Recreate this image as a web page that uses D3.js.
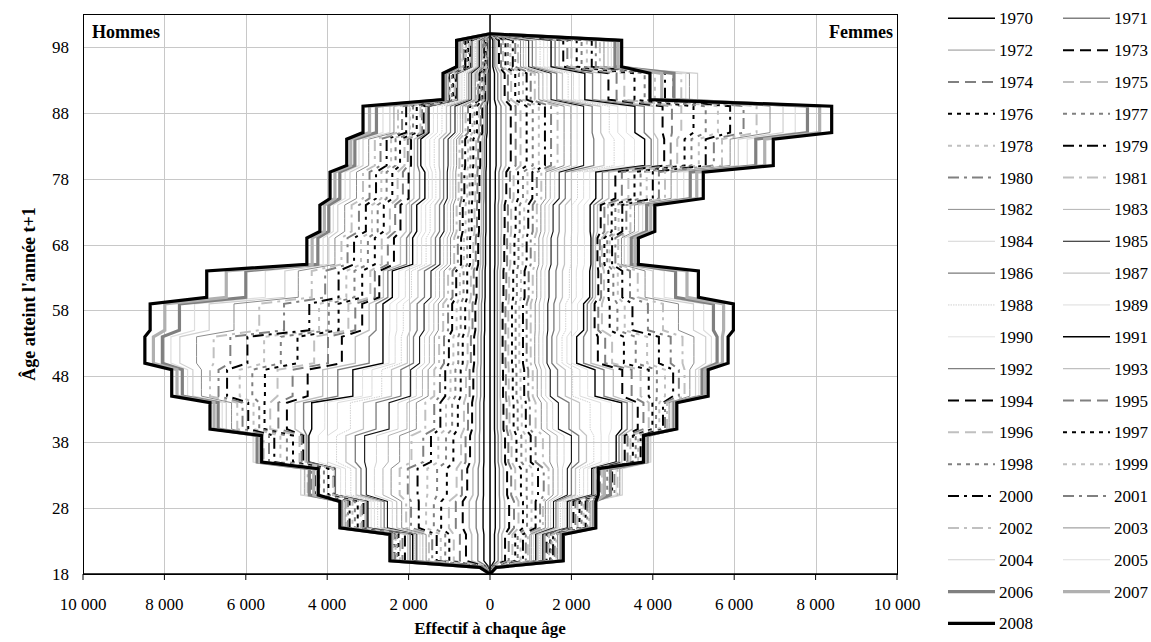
<!DOCTYPE html>
<html>
<head>
<meta charset="utf-8">
<script src="https://cdn.jsdelivr.net/npm/d3@7"></script>
<style>
  body { margin: 0; background: #fff; }
  svg text { font-family: "Liberation Serif", "Times New Roman", serif; fill: #000; }
</style>
</head>
<body>
<svg id="chart" width="1151" height="642"></svg>
<script>
// Years shown, one line per year
const annees = [1970,1971,1972,1973,1974,1975,1976,1977,1978,1979,1980,1981,1982,1983,1984,1985,1986,1987,1988,1989,
                1990,1991,1992,1993,1994,1995,1996,1997,1998,1999,2000,2001,2002,2003,2004,2005,2006,2007,2008];

// Age groups: age 19 on its own, then five-year groups 20-24 ... 95-99
const debutGroupe = [19, 20, 25, 30, 35, 40, 45, 50, 55, 60, 65, 70, 75, 80, 85, 90, 95];
const finGroupe   = [19, 24, 29, 34, 39, 44, 49, 54, 59, 64, 69, 74, 79, 84, 89, 94, 99];

// Men: headcount at each age of the group, one row per year (same order as annees)
const hommes = [
  [20,150,170,160,150,150,140,140,130,120,110,100,100,90,70,50,30],
  [30,300,340,290,260,250,230,220,210,190,170,160,150,140,110,70,40],
  [50,450,510,420,370,350,320,300,280,260,230,210,200,190,150,90,50],
  [60,590,670,560,490,440,410,390,360,330,290,270,260,240,190,120,70],
  [80,740,840,690,600,540,500,470,430,400,350,320,310,290,230,140,80],
  [90,890,1010,820,710,640,590,550,510,470,410,380,360,340,270,160,90],
  [100,1000,1200,1060,900,790,720,670,610,560,490,450,430,410,320,190,110],
  [110,1100,1380,1300,1080,930,850,780,720,650,560,520,500,480,380,210,120],
  [110,1210,1570,1540,1270,1080,970,900,820,740,640,600,560,540,430,240,140],
  [120,1310,1750,1780,1450,1220,1100,1010,930,830,710,670,630,610,490,260,150],
  [130,1420,1940,2020,1640,1370,1230,1130,1030,920,790,740,700,680,540,290,170],
  [140,1500,2060,2220,1930,1590,1370,1250,1150,1030,880,820,770,750,600,320,190],
  [150,1570,2170,2430,2220,1810,1520,1370,1270,1130,970,900,840,820,670,360,210],
  [150,1650,2290,2630,2500,2040,1660,1490,1380,1240,1050,970,910,890,730,390,220],
  [160,1720,2400,2840,2790,2260,1810,1610,1500,1340,1140,1050,980,960,800,430,240],
  [170,1800,2520,3040,3080,2480,1950,1730,1620,1450,1230,1130,1050,1030,860,460,260],
  [170,1820,2600,3170,3310,2800,2190,1880,1790,1610,1340,1240,1140,1140,970,520,290],
  [180,1830,2680,3290,3540,3110,2420,2030,1960,1770,1450,1350,1230,1250,1070,570,320],
  [180,1850,2760,3420,3770,3430,2660,2180,2130,1930,1570,1470,1330,1370,1180,630,360],
  [180,1870,2840,3550,3990,3750,2900,2330,2290,2080,1680,1580,1420,1480,1290,690,390],
  [190,1880,2920,3670,4220,4060,3130,2480,2460,2240,1790,1690,1510,1590,1390,740,420],
  [190,1900,3000,3800,4450,4380,3370,2630,2630,2400,1900,1800,1600,1700,1500,800,450],
  [190,1960,3040,3810,4500,4580,3740,2970,2800,2510,2050,1930,1730,1780,1540,810,460],
  [190,2020,3070,3820,4540,4790,4110,3310,2970,2620,2200,2060,1870,1860,1580,830,480],
  [200,2090,3110,3840,4590,4990,4480,3640,3140,2720,2360,2200,2000,1940,1630,840,490],
  [200,2150,3140,3850,4630,5200,4850,3980,3310,2830,2510,2330,2140,2020,1670,860,510],
  [200,2210,3180,3860,4680,5400,5220,4320,3480,2940,2660,2460,2270,2100,1710,870,520],
  [210,2250,3250,3970,4840,5540,5530,4730,3720,3140,2830,2610,2400,2210,1800,910,540],
  [210,2280,3320,4080,4990,5670,5840,5140,3960,3330,3000,2760,2540,2320,1890,940,570],
  [220,2320,3380,4190,5150,5810,6150,5550,4200,3530,3170,2900,2670,2430,1970,980,590],
  [220,2350,3450,4300,5300,5940,6460,5960,4440,3720,3340,3050,2800,2540,2060,1010,610],
  [220,2360,3490,4390,5430,6080,6670,6380,5060,4050,3500,3220,2960,2690,2160,1020,650],
  [230,2380,3530,4480,5560,6210,6880,6790,5670,4380,3650,3400,3120,2830,2260,1030,680],
  [230,2390,3560,4560,5690,6350,7090,7210,6290,4710,3810,3570,3280,2980,2360,1030,720],
  [230,2400,3600,4650,5820,6480,7300,7620,6900,5040,3960,3740,3440,3120,2460,1040,750],
  [240,2420,3620,4540,5770,6580,7430,7840,7260,5520,4100,3850,3560,3220,2630,1070,770],
  [240,2430,3650,4440,5720,6680,7560,8050,7630,6000,4230,3960,3690,3320,2790,1100,790],
  [250,2440,3670,4330,5660,6780,7690,8270,7990,6480,4370,4070,3810,3420,2960,1130,800],
  [250,2460,3690,4220,5610,6880,7820,8480,8350,6960,4500,4180,3930,3520,3120,1155,820]
];

// Women: headcount at each age of the group, one row per year
const femmes = [
  [10,110,130,130,120,110,110,110,110,110,120,120,130,150,150,110,70],
  [20,200,240,230,200,180,180,180,180,180,200,200,220,270,270,190,120],
  [30,290,360,330,280,260,250,250,250,250,270,280,310,390,390,270,170],
  [30,370,470,420,370,330,320,310,310,330,350,360,400,510,510,360,220],
  [40,460,590,520,450,410,390,380,380,400,420,440,490,630,630,440,270],
  [50,550,700,620,530,480,460,450,450,470,500,520,580,750,750,520,320],
  [60,620,810,760,650,580,560,540,540,570,600,630,690,900,900,620,380],
  [60,680,910,900,770,680,650,630,630,660,700,730,810,1050,1050,710,440],
  [70,750,1020,1040,880,780,750,720,720,760,800,840,920,1200,1200,810,500],
  [70,810,1120,1180,1000,880,840,810,810,850,900,940,1040,1350,1350,900,560],
  [80,880,1230,1320,1120,980,940,900,900,950,1000,1050,1150,1500,1500,1000,620],
  [90,930,1300,1440,1300,1120,1050,1000,1000,1050,1100,1150,1260,1660,1660,1100,690],
  [90,980,1360,1550,1470,1260,1160,1100,1110,1150,1200,1250,1370,1820,1820,1200,750],
  [100,1020,1430,1670,1650,1400,1260,1200,1210,1250,1300,1350,1480,1980,1980,1300,820],
  [100,1070,1490,1780,1820,1540,1370,1300,1320,1350,1400,1450,1590,2140,2140,1400,880],
  [110,1120,1560,1900,2000,1680,1480,1400,1420,1450,1500,1550,1700,2300,2300,1500,950],
  [110,1150,1620,2000,2180,1940,1660,1520,1570,1620,1660,1700,1850,2550,2510,1640,1040],
  [120,1180,1670,2100,2370,2200,1850,1640,1710,1780,1830,1850,2000,2800,2720,1780,1130],
  [120,1210,1730,2200,2550,2460,2030,1770,1860,1950,1990,2010,2150,3050,2930,1920,1230],
  [120,1240,1790,2300,2730,2720,2210,1890,2010,2120,2150,2160,2300,3300,3140,2050,1320],
  [130,1270,1840,2400,2920,2980,2400,2010,2150,2280,2320,2310,2450,3550,3350,2190,1410],
  [130,1300,1900,2500,3100,3235,2580,2130,2300,2450,2480,2460,2600,3800,3560,2330,1500],
  [130,1330,1950,2550,3170,3370,2800,2300,2390,2520,2530,2550,2760,3960,3790,2520,1600],
  [130,1360,2000,2600,3240,3500,3030,2480,2480,2590,2590,2640,2920,4120,4020,2720,1700],
  [140,1390,2050,2650,3310,3630,3250,2650,2570,2660,2640,2720,3080,4280,4240,2910,1800],
  [140,1420,2100,2700,3380,3770,3480,2830,2660,2730,2700,2810,3240,4440,4470,3110,1900],
  [140,1450,2150,2750,3450,3900,3700,3000,2750,2800,2750,2900,3400,4600,4700,3300,2000],
  [140,1480,2200,2810,3510,3990,3900,3290,2940,2910,2810,2990,3550,4780,5000,3550,2130],
  [150,1500,2250,2880,3580,4080,4100,3580,3130,3030,2880,3080,3700,4950,5300,3800,2250],
  [150,1530,2300,2940,3640,4160,4300,3860,3310,3140,2940,3160,3850,5130,5600,4050,2380],
  [150,1550,2350,3000,3700,4250,4500,4150,3500,3250,3000,3250,4000,5300,5900,4300,2500],
  [150,1590,2390,3060,3760,4300,4640,4440,3880,3440,3080,3350,4150,5500,6230,4500,2600],
  [150,1630,2430,3130,3830,4350,4780,4730,4250,3630,3150,3450,4300,5700,6550,4700,2700],
  [150,1660,2460,3190,3890,4400,4910,5010,4630,3810,3230,3550,4450,5900,6880,4900,2800],
  [150,1700,2500,3250,3950,4450,5050,5300,5000,4000,3300,3650,4600,6100,7200,5100,2900],
  [150,1730,2530,3100,3910,4490,5130,5440,5250,4280,3390,3750,4760,6320,7500,4810,2980],
  [150,1750,2550,2960,3860,4520,5210,5580,5490,4560,3470,3850,4920,6530,7800,4520,3070],
  [150,1780,2580,2810,3820,4560,5280,5710,5740,4840,3560,3950,5080,6750,8100,4220,3150],
  [150,1800,2600,2660,3770,4590,5360,5850,5980,5120,3645,4050,5240,6960,8395,3930,3235]
];

// Axis ticks
const ticksEffectif = [-10000, -8000, -6000, -4000, -2000, 0, 2000, 4000, 6000, 8000, 10000];
const ticksAge = [18, 28, 38, 48, 58, 68, 78, 88, 98];

// Line styles, one per year
const NOIR = "#000", GRIS = "#808080", CLAIR = "#c0c0c0";
const TIRET = "11,6", POINTS = "4,5", MIXTE = "11,5,3,5";
const styles = [
  {c: NOIR, w: 1.4, d: null},        // 1970
  {c: GRIS, w: 1.4, d: null},
  {c: CLAIR, w: 1.6, d: null},
  {c: NOIR, w: 2, d: TIRET},
  {c: GRIS, w: 2, d: TIRET},
  {c: CLAIR, w: 2, d: TIRET},
  {c: NOIR, w: 2, d: POINTS},
  {c: GRIS, w: 2, d: POINTS},
  {c: CLAIR, w: 2, d: POINTS},
  {c: NOIR, w: 2, d: MIXTE},
  {c: GRIS, w: 2, d: MIXTE},
  {c: CLAIR, w: 2, d: MIXTE},        // 1981
  {c: "#8c8c8c", w: 1, d: null},     // 1982
  {c: "#b4b4b4", w: 1, d: null},
  {c: "#d4d4d4", w: 1, d: null},
  {c: "#111", w: 1.1, d: null},      // 1985
  {c: "#7a7a7a", w: 1.3, d: null},
  {c: "#c4c4c4", w: 1.3, d: null},
  {c: "#d0d0d0", w: 1, d: "1.5,1"},  // 1988
  {c: "#dcdcdc", w: 1, d: null},
  {c: "#e2e2e2", w: 1, d: null},     // 1990
  {c: NOIR, w: 1.4, d: null},        // 1991
  {c: GRIS, w: 1.4, d: null},
  {c: CLAIR, w: 1.4, d: null},
  {c: NOIR, w: 2, d: TIRET},         // 1994
  {c: GRIS, w: 2, d: TIRET},
  {c: CLAIR, w: 2, d: TIRET},
  {c: NOIR, w: 2, d: POINTS},        // 1997
  {c: GRIS, w: 2, d: POINTS},
  {c: CLAIR, w: 2, d: POINTS},
  {c: NOIR, w: 2, d: MIXTE},         // 2000
  {c: GRIS, w: 2, d: MIXTE},
  {c: CLAIR, w: 2, d: MIXTE},
  {c: "#8c8c8c", w: 1, d: null},     // 2003
  {c: "#cfcfcf", w: 1.2, d: null},
  {c: "#dedede", w: 1.2, d: null},
  {c: "#808080", w: 3.2, d: null},   // 2006
  {c: "#b0b0b0", w: 3.2, d: null},   // 2007
  {c: NOIR, w: 3.2, d: null}         // 2008
];

const svg = d3.select("#chart");
const zone = {left: 83, right: 897, top: 14, bottom: 574};

const x = d3.scaleLinear().domain([-10000, 10000]).range([zone.left, zone.right]);
const y = d3.scaleLinear().domain([18, 103]).range([zone.bottom, zone.top]);

const fmt = d => d3.format(",")(Math.abs(d)).replace(/,/g, " ");

// Grid
const grille = svg.append("g").attr("stroke", "#c8c8c8").attr("stroke-width", 1);
grille.selectAll("line.v").data(ticksEffectif.filter(d => Math.abs(d) < 10000))
  .join("line")
  .attr("x1", d => Math.round(x(d)) + 0.5).attr("x2", d => Math.round(x(d)) + 0.5)
  .attr("y1", zone.top).attr("y2", zone.bottom);
grille.selectAll("line.h").data(ticksAge.filter(d => d > 18))
  .join("line")
  .attr("x1", zone.left).attr("x2", zone.right)
  .attr("y1", d => Math.round(y(d)) + 0.5).attr("y2", d => Math.round(y(d)) + 0.5);

// Plot frame
svg.append("rect")
  .attr("x", zone.left + 0.5).attr("y", zone.top + 0.5)
  .attr("width", zone.right - zone.left).attr("height", zone.bottom - zone.top)
  .attr("fill", "none").attr("stroke", "#000").attr("stroke-width", 1);

// Step profile of one year: zero at 18 and at 100, group value at every age in between
function profil(valeurs, signe) {
  const pts = [{age: 18, v: 0}];
  valeurs.forEach((v, g) => {
    for (let a = debutGroupe[g]; a <= finGroupe[g]; a++) pts.push({age: a, v: signe * v});
  });
  pts.push({age: 100, v: 0});
  return pts;
}

const ligne = d3.line().x(d => x(d.v)).y(d => y(d.age));

const series = svg.append("g").attr("fill", "none");
annees.forEach((an, i) => {
  const s = styles[i];
  [[hommes[i], -1], [femmes[i], 1]].forEach(([vals, signe]) => {
    series.append("path")
      .attr("d", ligne(profil(vals, signe)))
      .attr("stroke", s.c)
      .attr("stroke-width", s.w)
      .attr("stroke-dasharray", s.d)
      .attr("stroke-linejoin", "miter");
  });
});

// Zero line
svg.append("line")
  .attr("x1", x(0)).attr("x2", x(0))
  .attr("y1", zone.bottom).attr("y2", zone.top)
  .attr("stroke", "#000").attr("stroke-width", 1.5);

// Horizontal axis
const axeX = svg.append("g").attr("transform", `translate(0,${zone.bottom})`);
axeX.append("line").attr("x1", zone.left).attr("x2", zone.right)
  .attr("stroke", "#000").attr("stroke-width", 1.3);
axeX.selectAll("line.t").data(ticksEffectif).join("line")
  .attr("x1", d => x(d)).attr("x2", d => x(d))
  .attr("y1", 0).attr("y2", 6).attr("stroke", "#000");
axeX.selectAll("text").data(ticksEffectif).join("text")
  .attr("x", d => x(d)).attr("y", 36)
  .attr("text-anchor", "middle").attr("font-size", 17)
  .text(fmt);

// Vertical axis labels
svg.append("g").selectAll("text").data(ticksAge).join("text")
  .attr("x", 69).attr("y", d => y(d) + 6)
  .attr("text-anchor", "end").attr("font-size", 17)
  .text(d => d);

// Titles
svg.append("text").attr("x", 490).attr("y", 634)
  .attr("text-anchor", "middle").attr("font-size", 17).attr("font-weight", "bold")
  .text("Effectif à chaque âge");
svg.append("text")
  .attr("transform", `translate(35,${(zone.top + zone.bottom) / 2}) rotate(-90)`)
  .attr("text-anchor", "middle").attr("font-size", 18).attr("font-weight", "bold")
  .text("Âge atteint l'année t+1");
svg.append("text").attr("x", 92).attr("y", 38)
  .attr("font-size", 18).attr("font-weight", "bold").text("Hommes");
svg.append("text").attr("x", 893).attr("y", 38).attr("text-anchor", "end")
  .attr("font-size", 18).attr("font-weight", "bold").text("Femmes");

// Legend, two columns
const legende = svg.append("g");
annees.forEach((an, i) => {
  const col = i % 2, rang = Math.floor(i / 2);
  const x0 = col ? 1063 : 948, yy = 18.3 + rang * 31.85;
  const s = styles[i];
  legende.append("line")
    .attr("x1", x0).attr("x2", x0 + 47).attr("y1", yy).attr("y2", yy)
    .attr("stroke", s.c).attr("stroke-width", s.w).attr("stroke-dasharray", s.d);
  legende.append("text")
    .attr("x", x0 + 51).attr("y", yy + 6)
    .attr("font-size", 17).text(an);
});
</script>
</body>
</html>
